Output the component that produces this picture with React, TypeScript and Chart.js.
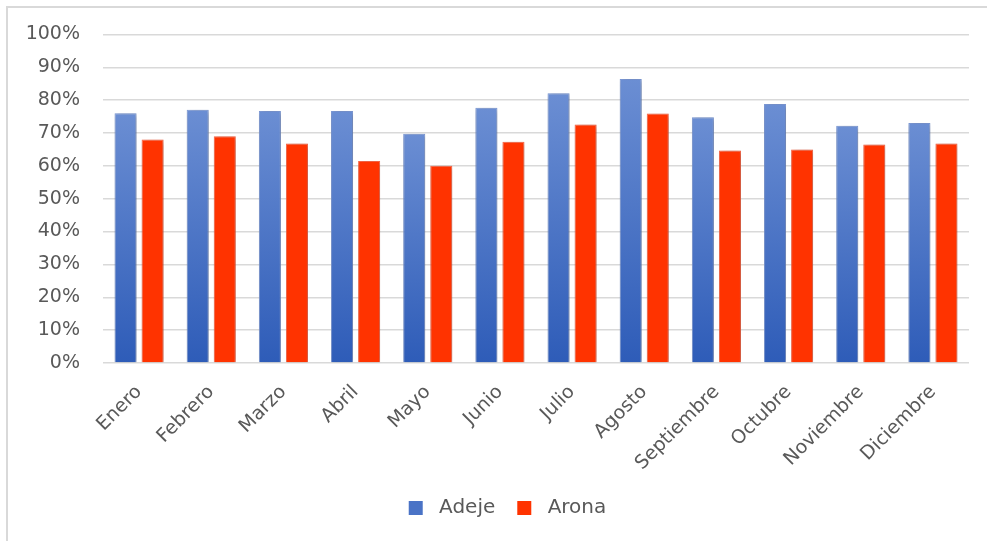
import React, { useEffect, useRef } from "react";
import { Chart, registerables } from "chart.js";

Chart.register(...registerables);

const months = ["Enero", "Febrero", "Marzo", "Abril", "Mayo", "Junio", "Julio", "Agosto", "Septiembre", "Octubre", "Noviembre", "Diciembre"];
const adeje = [76.0, 77.1, 76.7, 76.7, 69.8, 77.7, 82.1, 86.4, 74.8, 78.8, 72.2, 73.0];
const arona = [68.0, 69.0, 66.8, 61.5, 60.0, 67.3, 72.6, 75.9, 64.7, 65.0, 66.5, 66.8];
const seriesNames = ["Adeje", "Arona"];

const FONT = "'DejaVu Sans', sans-serif";
const TEXT = "#595959";

const shadowPlugin = {
  id: "barShadow",
  beforeDatasetsDraw(chart: any) {
    const ctx = chart.ctx;
    ctx.save();
    ctx.shadowColor = "rgba(0,0,0,0.35)";
    ctx.shadowBlur = 5;
    ctx.shadowOffsetX = 1;
    ctx.shadowOffsetY = 1;
  },
  afterDatasetsDraw(chart: any) {
    chart.ctx.restore();
  },
};

const legendShift = {
  id: "legendShift",
  afterLayout(chart: any) {
    if (chart.legend) {
      chart.legend.left = chart.legend.left + 46;
    }
  },
};

function blueGradient(context: any) {
  const chart = context.chart;
  const { ctx, scales } = chart;
  if (!scales || !scales.y || context.parsed == null || context.parsed.y == null) return "#4472c4";
  const top = scales.y.getPixelForValue(context.parsed.y);
  const bottom = scales.y.getPixelForValue(0);
  if (!isFinite(top) || !isFinite(bottom)) return "#4472c4";
  const g = ctx.createLinearGradient(0, top, 0, bottom);
  g.addColorStop(0, "#6b8ed3");
  g.addColorStop(1, "#2e5cb8");
  return g;
}

export default function App() {
  const ref = useRef<HTMLCanvasElement | null>(null);
  useEffect(() => {
    if (!ref.current) return;
    const chart = new Chart(ref.current, {
      type: "bar",
      data: {
        labels: months,
        datasets: [
          {
            label: seriesNames[0],
            data: adeje,
            backgroundColor: blueGradient as any,
            borderColor: "#7d9ad8",
            borderWidth: 1,
            categoryPercentage: 0.75,
            barPercentage: 0.815,
          },
          {
            label: seriesNames[1],
            data: arona,
            backgroundColor: "#ff3300",
            borderColor: "#ff6a4a",
            borderWidth: 1,
            categoryPercentage: 0.75,
            barPercentage: 0.815,
          },
        ],
      },
      options: {
        responsive: false,
        animation: false,
        devicePixelRatio: 1,
        layout: { padding: { top: 34, right: 18, bottom: 13, left: 0 } },
        plugins: {
          tooltip: { enabled: false },
          legend: {
            position: "bottom",
            labels: {
              boxWidth: 14,
              boxHeight: 14,
              padding: 22,
              color: TEXT,
              font: { family: FONT, size: 20 },
              generateLabels: (c: any) => {
                const items = Chart.defaults.plugins.legend.labels.generateLabels(c);
                return items.map((it: any, i: number) => ({
                  ...it,
                  text: " " + it.text,
                  fillStyle: i === 0 ? "#4a73c6" : "#ff3300",
                  strokeStyle: i === 0 ? "#4a73c6" : "#ff3300",
                  lineWidth: 0,
                }));
              },
            },
          },
        },
        scales: {
          x: {
            grid: { display: false },
            border: { display: false },
            ticks: {
              color: TEXT,
              font: { family: FONT, size: 19 },
              minRotation: 45,
              maxRotation: 45,
              padding: 10,
            },
            afterFit: (s: any) => {
              s.height = 113;
            },
          },
          y: {
            min: 0,
            max: 100,
            grid: { color: "#d9d9d9", lineWidth: 1.5, drawTicks: false },
            border: { display: false },
            ticks: {
              stepSize: 10,
              color: TEXT,
              padding: 23,
              font: { family: FONT, size: 19 },
              callback: (v: any) => v + "%",
            },
            afterFit: (s: any) => {
              s.width = 103;
            },
          },
        },
      },
      plugins: [shadowPlugin, legendShift],
    });
    return () => chart.destroy();
  }, []);

  return (
    <div style={{ position: "fixed", left: 0, top: 0, width: 987, height: 541, background: "#fff", overflow: "hidden" }}>
      <div
        style={{
          position: "absolute",
          left: 6,
          top: 6,
          width: 1000,
          height: 600,
          borderLeft: "2px solid #d9d9d9",
          borderTop: "2px solid #d9d9d9",
        }}
      />
      <canvas ref={ref} width={987} height={541} style={{ position: "absolute", left: 0, top: 0, width: 987, height: 541 }} />
    </div>
  );
}
